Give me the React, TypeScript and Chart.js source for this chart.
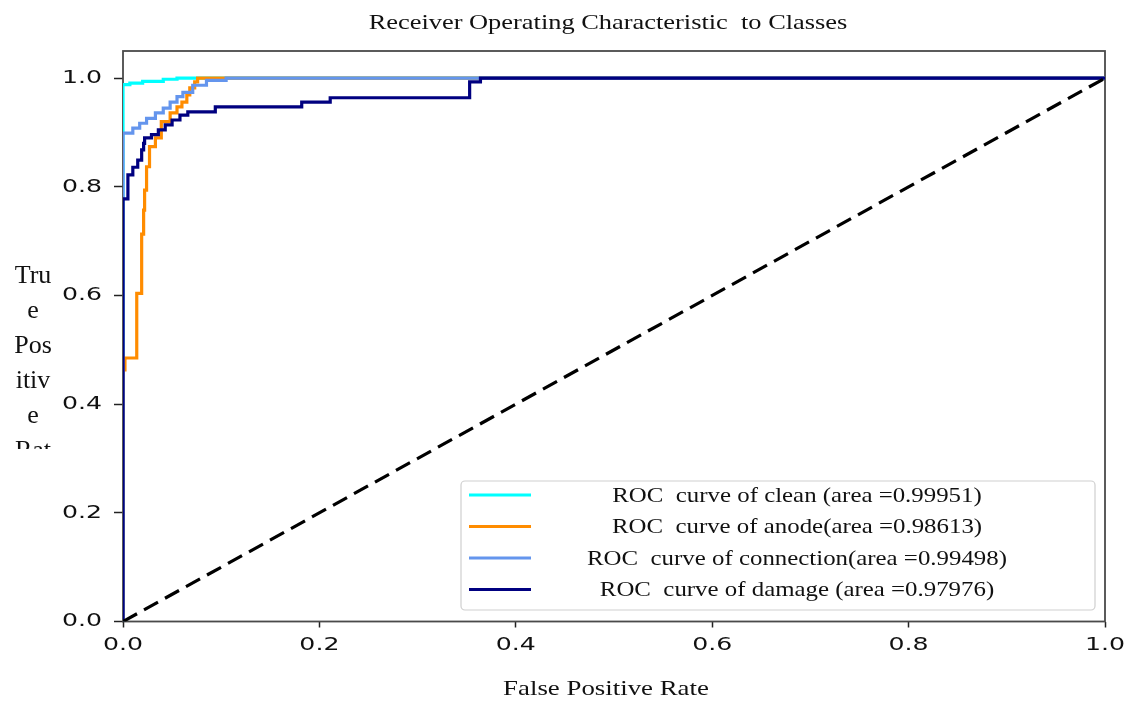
import React, { useEffect, useRef } from "react";
import { Chart, registerables } from "chart.js";

Chart.register(...registerables);

// ---- data ----
const CLEAN_FPR = [0, 0, 0.007, 0.007, 0.02, 0.02, 0.041, 0.041, 0.055, 0.055, 1];
const CLEAN_TPR = [0, 0.988, 0.988, 0.991, 0.991, 0.994, 0.994, 0.998, 0.998, 1, 1];

const ANODE_FPR = [0, 0, 0.002, 0.002, 0.014, 0.014, 0.019, 0.019, 0.021, 0.021, 0.022, 0.022, 0.024, 0.024, 0.027, 0.027, 0.033, 0.033, 0.039, 0.039, 0.048, 0.048, 0.055, 0.055, 0.06, 0.06, 0.065, 0.065, 0.068, 0.068, 0.073, 0.073, 0.076, 0.076, 1];
const ANODE_TPR = [0, 0.463, 0.463, 0.485, 0.485, 0.604, 0.604, 0.713, 0.713, 0.757, 0.757, 0.794, 0.794, 0.837, 0.837, 0.874, 0.874, 0.89, 0.89, 0.92, 0.92, 0.936, 0.936, 0.947, 0.947, 0.956, 0.956, 0.969, 0.969, 0.982, 0.982, 0.993, 0.993, 1, 1];

const CONN_FPR = [0, 0, 0.01, 0.01, 0.017, 0.017, 0.024, 0.024, 0.033, 0.033, 0.041, 0.041, 0.048, 0.048, 0.055, 0.055, 0.061, 0.061, 0.071, 0.071, 0.085, 0.085, 0.105, 0.105, 1];
const CONN_TPR = [0, 0.899, 0.899, 0.908, 0.908, 0.917, 0.917, 0.926, 0.926, 0.936, 0.936, 0.945, 0.945, 0.956, 0.956, 0.966, 0.966, 0.974, 0.974, 0.987, 0.987, 0.996, 0.996, 1, 1];

const DAMAGE_FPR = [0, 0, 0.005, 0.005, 0.01, 0.01, 0.015, 0.015, 0.019, 0.019, 0.021, 0.021, 0.022, 0.022, 0.029, 0.029, 0.036, 0.036, 0.043, 0.043, 0.05, 0.05, 0.058, 0.058, 0.066, 0.066, 0.094, 0.094, 0.182, 0.182, 0.211, 0.211, 0.353, 0.353, 0.364, 0.364, 1];
const DAMAGE_TPR = [0, 0.778, 0.778, 0.822, 0.822, 0.836, 0.836, 0.849, 0.849, 0.868, 0.868, 0.88, 0.88, 0.89, 0.89, 0.896, 0.896, 0.905, 0.905, 0.914, 0.914, 0.923, 0.923, 0.932, 0.932, 0.938, 0.938, 0.947, 0.947, 0.956, 0.956, 0.964, 0.964, 0.993, 0.993, 1, 1];

const CHANCE_FPR = [0, 1];
const CHANCE_TPR = [0, 1];

const X_TICKS = [0, 0.2, 0.4, 0.6, 0.8, 1.0];
const Y_TICKS = [0, 0.2, 0.4, 0.6, 0.8, 1.0];

const TITLE = "Receiver Operating Characteristic  to Classes";
const X_TITLE = "False Positive Rate";
const Y_TITLE_LINES = ["Tru", "e", "Pos", "itiv", "e", "Rat"];
const LEGEND_LABELS = [
  "ROC  curve of clean (area =0.99951)",
  "ROC  curve of anode(area =0.98613)",
  "ROC  curve of connection(area =0.99498)",
  "ROC  curve of damage (area =0.97976)",
];
const COLORS = ["#00FFFF", "#FF8C00", "#6495ED", "#000080"];

// ---- style ----
const SERIF = "'Liberation Serif', 'Times New Roman', serif";
const SANS = "'DejaVu Sans', sans-serif";
const TICK_SIZE = 18;
const TICK_STRETCH = 1.4;

function pts(xs: number[], ys: number[]) {
  return xs.map((x, i) => ({ x, y: ys[i] }));
}

function stretchText(ctx: CanvasRenderingContext2D, text: string, x: number, y: number, sx: number) {
  ctx.save();
  ctx.translate(x, y);
  ctx.scale(sx, 1);
  ctx.fillText(text, 0, 0);
  ctx.restore();
}

export default function App() {
  const ref = useRef<HTMLCanvasElement | null>(null);

  useEffect(() => {
    document.body.style.margin = "0";
    const canvas = ref.current;
    if (!canvas) return;

    const decor = {
      id: "decor",
      beforeDatasetsDraw(chart: any) {
        const { ctx, chartArea: a } = chart;
        ctx.save();
        ctx.strokeStyle = "#4a4a4a";
        ctx.lineWidth = 1.8;
        ctx.strokeRect(a.left, a.top, a.right - a.left, a.bottom - a.top);
        ctx.restore();
      },
      afterDraw(chart: any) {
        const { ctx, chartArea: a } = chart;
        const xs = chart.scales.x;
        const ys = chart.scales.y;
        ctx.save();
        ctx.fillStyle = "#111";
        // tick labels
        ctx.font = `${TICK_SIZE}px ${SANS}`;
        ctx.textBaseline = "middle";
        ctx.textAlign = "right";
        ys.ticks.forEach((t: any) => {
          stretchText(ctx, Number(t.value).toFixed(1), 102, ys.getPixelForValue(t.value), TICK_STRETCH);
        });
        ctx.textAlign = "center";
        xs.ticks.forEach((t: any) => {
          stretchText(ctx, Number(t.value).toFixed(1), xs.getPixelForValue(t.value), 645, TICK_STRETCH);
        });

        // title + axis titles
        ctx.font = `22px ${SERIF}`;
        ctx.textAlign = "center";
        ctx.textBaseline = "middle";
        stretchText(ctx, TITLE, 608, 23, 1.2);
        stretchText(ctx, X_TITLE, 606, 689, 1.22);

        ctx.save();
        ctx.beginPath();
        ctx.rect(0, a.top, 120, 449 - a.top);
        ctx.clip();
        ctx.font = `26px ${SERIF}`;
        ctx.textBaseline = "alphabetic";
        Y_TITLE_LINES.forEach((s, i) => {
          ctx.fillText(s, 33, 283 + i * 35);
        });
        ctx.restore();

        // legend
        const bx = 461, by = 481, bw = 634, bh = 129;
        ctx.save();
        ctx.fillStyle = "rgba(255,255,255,0.9)";
        ctx.strokeStyle = "#cfcfcf";
        ctx.lineWidth = 1.2;
        ctx.beginPath();
        (ctx as any).roundRect(bx, by, bw, bh, 4);
        ctx.fill();
        ctx.stroke();
        ctx.restore();

        ctx.font = `22px ${SERIF}`;
        ctx.textAlign = "center";
        ctx.textBaseline = "middle";
        chart.data.datasets.forEach((ds: any, i: number) => {
          if (i >= LEGEND_LABELS.length) return;
          const y = 495 + i * 31.5;
          ctx.save();
          ctx.strokeStyle = ds.borderColor;
          ctx.lineWidth = 3.2;
          ctx.beginPath();
          ctx.moveTo(469, y);
          ctx.lineTo(531, y);
          ctx.stroke();
          ctx.restore();
          ctx.fillStyle = "#111";
          stretchText(ctx, ds.label, 797, y + 1, 1.13);
        });
        ctx.restore();
      },
    };

    const mk = (label: string, xs: number[], ys: number[], color: string, order: number) => ({
      label,
      data: pts(xs, ys),
      borderColor: color,
      backgroundColor: color,
      borderWidth: 3.2,
      showLine: true,
      pointRadius: 0,
      tension: 0,
      fill: false,
      order,
    });

    const chart = new Chart(canvas, {
      type: "scatter",
      data: {
        datasets: [
          mk(LEGEND_LABELS[0], CLEAN_FPR, CLEAN_TPR, COLORS[0], 5),
          mk(LEGEND_LABELS[1], ANODE_FPR, ANODE_TPR, COLORS[1], 4),
          mk(LEGEND_LABELS[2], CONN_FPR, CONN_TPR, COLORS[2], 3),
          mk(LEGEND_LABELS[3], DAMAGE_FPR, DAMAGE_TPR, COLORS[3], 2),
          { ...mk("chance", CHANCE_FPR, CHANCE_TPR, "#000000", 1), borderDash: [16, 8] },
        ],
      },
      options: {
        animation: false,
        responsive: false,
        devicePixelRatio: 1,
        layout: { padding: { left: 0, right: 26, top: 51, bottom: 0 } },
        plugins: { legend: { display: false }, title: { display: false }, tooltip: { enabled: false } },
        events: [],
        scales: {
          x: {
            type: "linear",
            min: 0,
            max: 1,
            afterBuildTicks: (s: any) => { s.ticks = X_TICKS.map((v) => ({ value: v })); },
            afterFit: (s: any) => { s.height = 80.5; },
            ticks: { display: false },
            grid: { display: true, drawOnChartArea: false, drawTicks: true, tickLength: 6, tickColor: "#222", tickWidth: 1.5, color: "#222" },
            border: { display: false },
          },
          y: {
            type: "linear",
            min: 0,
            max: 1.05,
            afterBuildTicks: (s: any) => { s.ticks = Y_TICKS.map((v) => ({ value: v })); },
            afterFit: (s: any) => { s.width = 123; },
            ticks: { display: false },
            grid: { display: true, drawOnChartArea: false, drawTicks: true, tickLength: 9, tickColor: "#222", tickWidth: 1.5, color: "#222" },
            border: { display: false },
          },
        },
      } as any,
      plugins: [decor],
    });

    return () => chart.destroy();
  }, []);

  return <canvas ref={ref} width={1131} height={702} style={{ display: "block" }} />;
}
